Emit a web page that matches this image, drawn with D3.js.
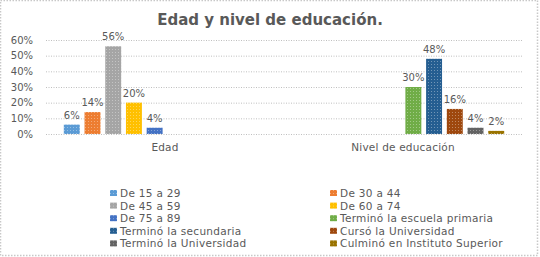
<!DOCTYPE html>
<html>
<head>
<meta charset="utf-8">
<script src="https://cdn.jsdelivr.net/npm/d3@7"></script>
<style>
  body { margin: 0; background: #fff; }
  svg text { font-family: "DejaVu Sans", sans-serif; fill: #595959; }
</style>
</head>
<body>
<div id="chart"></div>
<script>
// chart data
const categories = ["Edad", "Nivel de educación"];
const seriesNames = [
  "De 15 a 29", "De 30 a 44", "De 45 a 59", "De 60 a 74", "De 75 a 89",
  "Terminó la escuela primaria", "Terminó la secundaria", "Cursó la Universidad",
  "Terminó la Universidad", "Culminó en Instituto Superior"
];
// values per series: [Edad, Nivel de educación] (null = not shown)
const edadValues = [0.06, 0.14, 0.56, 0.20, 0.04, null, null, null, null, null];
const nivelValues = [null, null, null, null, null, 0.30, 0.48, 0.16, 0.04, 0.02];
const yTicks = [0, 0.1, 0.2, 0.3, 0.4, 0.5, 0.6];
const colors = ["#5b9bd5", "#ed7d31", "#a5a5a5", "#ffc000", "#4472c4",
                "#70ad47", "#255e91", "#9e480e", "#636363", "#997300"];

const W = 540, H = 257;
const margin = { top: 40, right: 18, bottom: 123, left: 46 };
const width = W - margin.left - margin.right;
const height = H - margin.top - margin.bottom;

const svg = d3.select('#chart')
  .append('svg')
    .attr('width', W)
    .attr('height', H);

// dotted texture for bars
const defs = svg.append('defs');
colors.forEach((c, i) => {
  const p = defs.append('pattern')
      .attr('id', 'tex' + i)
      .attr('width', 3)
      .attr('height', 3)
      .attr('patternUnits', 'userSpaceOnUse');
  p.append('rect').attr('width', 3).attr('height', 3).attr('fill', c);
  p.append('rect').attr('width', 1).attr('height', 1).attr('fill', '#fff').attr('opacity', 0.35);
});

// outer dotted frame
svg.append('rect')
    .attr('x', 0.5).attr('y', 0.5)
    .attr('width', W - 3).attr('height', H - 2)
    .attr('fill', 'none')
    .attr('stroke', '#c8c8c8')
    .attr('stroke-width', 1.5)
    .attr('stroke-dasharray', '1.5,1.5');

// title
svg.append('text')
    .attr('x', 270)
    .attr('y', 25)
    .attr('text-anchor', 'middle')
    .style('font-size', '15px')
    .style('font-weight', 'bold')
    .text('Edad y nivel de educación.');

const g = svg.append('g')
    .attr('transform', `translate(${margin.left},${margin.top})`);

const x0 = d3.scaleBand()
  .domain(categories)
  .range([0, width]);

const x1 = d3.scaleBand()
  .domain(seriesNames)
  .range([0, x0.bandwidth()])
  .paddingInner(0.23)
  .paddingOuter(0.86);

const y = d3.scaleLinear()
  .domain([0, 0.6])
  .range([height, 0]);

// gridlines + y labels
const yAxis = g.append('g')
    .attr('class', 'y-axis')
    .call(d3.axisLeft(y).tickValues(yTicks).tickSize(-width).tickPadding(13).tickFormat(d3.format('.0%')));
yAxis.select('.domain').remove();
yAxis.selectAll('line')
    .attr('stroke', '#bfbfbf')
    .attr('stroke-dasharray', '1,1.5');
yAxis.selectAll('text')
    .style('font-size', '10px')
    .attr('fill', '#595959');

// category labels
const xAxis = g.append('g')
    .attr('class', 'x-axis')
    .attr('transform', `translate(0,${height})`)
    .call(d3.axisBottom(x0).tickSize(0).tickPadding(10));
xAxis.select('.domain').remove();
xAxis.selectAll('text')
    .style('font-size', '10.5px')
    .style('letter-spacing', '0.2px')
    .attr('fill', '#595959');

// bars
const rows = categories.map((cat, ci) => ({
  cat,
  values: seriesNames.map((s, si) => ({ s, si, v: ci === 0 ? edadValues[si] : nivelValues[si] }))
    .filter(d => d.v !== null)
}));

const groups = g.selectAll('.group')
  .data(rows)
  .enter()
  .append('g')
    .attr('class', 'group')
    .attr('transform', d => `translate(${x0(d.cat)},0)`);

groups.selectAll('rect')
  .data(d => d.values)
  .enter()
  .append('rect')
    .attr('x', d => x1(d.s))
    .attr('y', d => y(d.v))
    .attr('width', x1.bandwidth())
    .attr('height', d => height - y(d.v))
    .attr('fill', d => `url(#tex${d.si})`);

groups.selectAll('.lbl')
  .data(d => d.values)
  .enter()
  .append('text')
    .attr('class', 'lbl')
    .attr('x', d => x1(d.s) + x1.bandwidth() / 2)
    .attr('y', d => y(d.v) - 6)
    .attr('text-anchor', 'middle')
    .style('font-size', '10px')
    .attr('fill', '#595959')
    .text(d => d3.format('.0%')(d.v));

// legend
const legend = svg.append('g')
    .attr('class', 'legend')
    .attr('transform', 'translate(110,193)');

seriesNames.forEach((name, i) => {
  const row = legend.append('g')
      .attr('transform', `translate(${(i % 2) * 220}, ${Math.floor(i / 2) * 12.6})`);
  row.append('rect')
      .attr('x', 0)
      .attr('y', -3)
      .attr('width', 7)
      .attr('height', 6)
      .attr('fill', `url(#tex${i})`);
  row.append('text')
      .attr('x', 10)
      .attr('y', 4)
      .style('font-size', '10.5px')
      .style('letter-spacing', '0.3px')
      .text(name);
});
</script>
</body>
</html>
